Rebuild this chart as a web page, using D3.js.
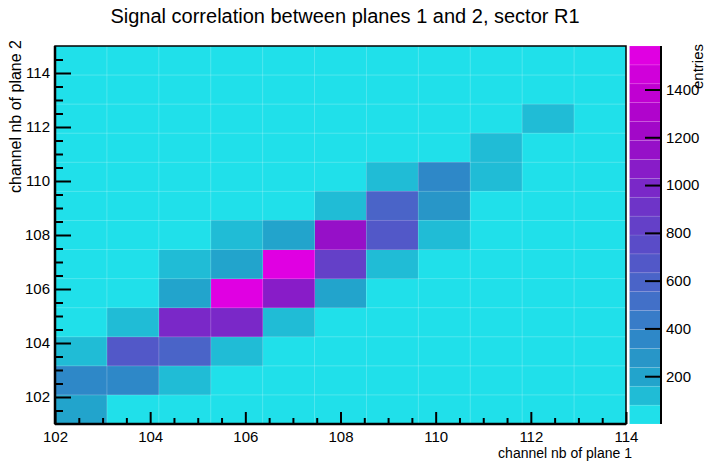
<!DOCTYPE html>
<html>
<head>
<meta charset="utf-8">
<script src="https://cdn.jsdelivr.net/npm/d3@7"></script>
<style>
  html, body { margin: 0; padding: 0; background: #fff; }
  svg { display: block; font-family: "Liberation Sans", Arial, Helvetica, sans-serif; }
</style>
</head>
<body>
<svg id="chart" width="707" height="461"></svg>
<script>
// Histogram binning (channel ranges of both planes)
const xRange = [102, 114];
const yRange = [101, 115];
const nBinsX = 11;
const nBinsY = 13;

// Bin contents, one row per plane-2 bin (bottom row first), one value per plane-1 bin
const counts = [
  [210,   0,    0,    0,    0,    0,    0,   0,   0,  0, 0],
  [360, 340,  130,    0,    0,    0,    0,   0,   0,  0, 0],
  [140, 700,  610,  120,    0,    0,    0,   0,   0,  0, 0],
  [  0, 110, 1000,  980,  125,    0,    0,   0,   0,  0, 0],
  [  0,   0,  220, 1582, 1080,  200,    0,   0,   0,  0, 0],
  [  0,   0,  115,  230, 1540,  820,  130,   0,   0,  0, 0],
  [  0,   0,    0,  120,  215, 1150,  640, 140,   0,  0, 0],
  [  0,   0,    0,    0,    0,  110,  630, 260,   0,  0, 0],
  [  0,   0,    0,    0,    0,    0,  120, 350, 135,  0, 0],
  [  0,   0,    0,    0,    0,    0,    0,   0, 100,  0, 0],
  [  0,   0,    0,    0,    0,    0,    0,   0,   0, 90, 0],
  [  0,   0,    0,    0,    0,    0,    0,   0,   0,  0, 0],
  [  0,   0,    0,    0,    0,    0,    0,   0,   0,  0, 0]
];

// Axis ticks
const xMajorTicks = [102, 104, 106, 108, 110, 112, 114];
const yMajorTicks = [102, 104, 106, 108, 110, 112, 114];
const zTicks = [200, 400, 600, 800, 1000, 1200, 1400];

// Text
const titleText = "Signal correlation between planes 1 and 2, sector R1";
const xTitle = "channel nb of plane 1";
const yTitle = "channel nb of plane 2";
const zTitle = "entries";

// 20-level colour palette, lowest level first
const palette = [
  "#20e0ea", "#20bcd6", "#22a4cc", "#2896c8", "#2e88c8",
  "#387cc8", "#4270c8", "#4a64c8", "#5258c8", "#5a4cc8",
  "#6440c8", "#6e34c8", "#7a28c8", "#881cc8", "#9610c8",
  "#a208c8", "#b004cc", "#c000d2", "#d000da", "#e000e2"
];

const frame = { left: 55, right: 626, top: 46, bottom: 424 };
const bar = { left: 629.5, right: 661 };

const svg = d3.select("#chart");

const x = d3.scaleLinear().domain(xRange).range([frame.left, frame.right]);
const y = d3.scaleLinear().domain(yRange).range([frame.bottom, frame.top]);

const zMax = d3.max(counts.flat());
const z = d3.scaleLinear().domain([0, zMax]).range([frame.bottom, frame.top]);
const levels = palette.length;
const colorOf = v => palette[Math.min(levels - 1, Math.max(0, Math.floor(v / zMax * levels)))];

const bw = (xRange[1] - xRange[0]) / nBinsX;
const bh = (yRange[1] - yRange[0]) / nBinsY;
const xEdges = d3.range(nBinsX + 1).map(i => xRange[0] + i * bw);
const yEdges = d3.range(nBinsY + 1).map(j => yRange[0] + j * bh);

// Cells
const cells = [];
counts.forEach((row, j) => row.forEach((v, i) => cells.push({ i, j, v })));

svg.append("g").selectAll("rect")
  .data(cells)
  .join("rect")
  .attr("x", d => x(xEdges[d.i]))
  .attr("y", d => y(yEdges[d.j + 1]))
  .attr("width", d => x(xEdges[d.i + 1]) - x(xEdges[d.i]))
  .attr("height", d => y(yEdges[d.j]) - y(yEdges[d.j + 1]))
  .attr("fill", d => colorOf(d.v))
  .attr("shape-rendering", "crispEdges");

// Faint seams between cells
const seams = svg.append("g")
  .attr("stroke", "rgba(255,255,255,0.22)")
  .attr("stroke-width", 1);
xEdges.slice(1, -1).forEach(e => seams.append("line")
  .attr("x1", x(e)).attr("x2", x(e)).attr("y1", frame.top).attr("y2", frame.bottom));
yEdges.slice(1, -1).forEach(e => seams.append("line")
  .attr("x1", frame.left).attr("x2", frame.right).attr("y1", y(e)).attr("y2", y(e)));

// Frame
svg.append("rect")
  .attr("x", frame.left).attr("y", frame.top)
  .attr("width", frame.right - frame.left).attr("height", frame.bottom - frame.top)
  .attr("fill", "none").attr("stroke", "#000").attr("stroke-width", 1.5);

// Axes
const fontFamily = '"Liberation Sans", Arial, Helvetica, sans-serif';
function styleAxis(g, size) {
  g.select(".domain").remove();
  g.selectAll(".tick line").attr("stroke", "#000").attr("stroke-width", 2);
  g.selectAll("text").attr("fill", "#000").attr("font-size", size).attr("font-family", fontFamily);
}

const xMinorTicks = d3.range(xRange[0], xRange[1] + 0.001, 0.5).filter(v => !xMajorTicks.includes(v));
const yMinorTicks = d3.range(yRange[0] + 0.5, yRange[1], 0.5).filter(v => !yMajorTicks.includes(v));

svg.append("g")
  .attr("transform", `translate(0,${frame.bottom})`)
  .call(d3.axisBottom(x).tickValues(xMinorTicks).tickSize(-6).tickFormat(""))
  .call(g => styleAxis(g, 15));
svg.append("g")
  .attr("transform", `translate(0,${frame.bottom})`)
  .call(d3.axisBottom(x).tickValues(xMajorTicks).tickSize(-12).tickPadding(7).tickFormat(d3.format("d")))
  .call(g => styleAxis(g, 15));

svg.append("g")
  .attr("transform", `translate(${frame.left},0)`)
  .call(d3.axisLeft(y).tickValues(yMinorTicks).tickSize(-8).tickFormat(""))
  .call(g => styleAxis(g, 15));
svg.append("g")
  .attr("transform", `translate(${frame.left},0)`)
  .call(d3.axisLeft(y).tickValues(yMajorTicks).tickSize(-16).tickPadding(5).tickFormat(d3.format("d")))
  .call(g => styleAxis(g, 15));

// Thick axis lines
svg.append("line")
  .attr("x1", frame.left).attr("x2", frame.right).attr("y1", frame.bottom).attr("y2", frame.bottom)
  .attr("stroke", "#000").attr("stroke-width", 2.5);
svg.append("line")
  .attr("x1", frame.left).attr("x2", frame.left).attr("y1", frame.top).attr("y2", frame.bottom)
  .attr("stroke", "#000").attr("stroke-width", 2.5);

// Colour bar
const bands = palette.map((c, k) => ({ c, lo: k * zMax / levels, hi: (k + 1) * zMax / levels }));
svg.append("g").selectAll("rect")
  .data(bands)
  .join("rect")
  .attr("x", bar.left)
  .attr("y", d => z(d.hi))
  .attr("width", bar.right - bar.left)
  .attr("height", d => z(d.lo) - z(d.hi))
  .attr("fill", d => d.c)
  .attr("stroke", "rgba(255,255,255,0.18)")
  .attr("stroke-width", 0.6);

svg.append("g")
  .attr("transform", `translate(${bar.right},0)`)
  .call(d3.axisRight(z).tickValues(zTicks).tickSize(-16).tickPadding(5).tickFormat(d3.format("d")))
  .call(g => styleAxis(g, 15));
svg.append("line")
  .attr("x1", bar.right).attr("x2", bar.right).attr("y1", frame.top).attr("y2", frame.bottom)
  .attr("stroke", "#000").attr("stroke-width", 2);

// Titles
svg.append("text")
  .attr("x", 345).attr("y", 23)
  .attr("text-anchor", "middle")
  .attr("font-size", 20)
  .text(titleText);

svg.append("text")
  .attr("x", frame.right + 6).attr("y", 458)
  .attr("text-anchor", "end")
  .attr("font-size", 14)
  .text(xTitle);

svg.append("text")
  .attr("transform", "translate(21,40) rotate(-90)")
  .attr("text-anchor", "end")
  .attr("font-size", 16)
  .text(yTitle);

svg.append("text")
  .attr("transform", "translate(703,44) rotate(-90)")
  .attr("text-anchor", "end")
  .attr("font-size", 15)
  .text(zTitle);
</script>
</body>
</html>
